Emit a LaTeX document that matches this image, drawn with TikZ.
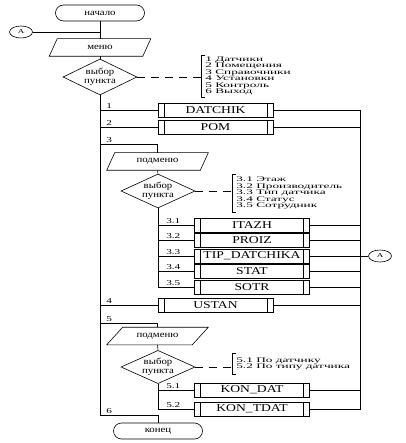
\documentclass[tikz,border=0pt]{standalone}
\usepackage{fontspec}
\setmainfont{Liberation Serif}[FakeStretch=1.2]
\newfontfamily\boxfont{Liberation Serif}[FakeStretch=1.3]
\newfontfamily\legfont{Liberation Serif}[FakeStretch=1.9]
\newfontfamily\numfont{Liberation Serif}[FakeStretch=1.5]
\usetikzlibrary{shapes.geometric}
\newcommand\pgdraw[2]{\draw ([xshift=#2]#1.north west) -- (#1.north east) -- ([xshift=-#2]#1.south east) -- (#1.south west) -- cycle;}
\newcommand\brk[1]{\draw ([xshift=4pt]#1.north west) -- (#1.north west) -- (#1.south west) -- ([xshift=4pt]#1.south west);}
\begin{document}
\begin{tikzpicture}[x=1pt,y=-1pt,
  line width=0.6pt,
  every node/.style={inner sep=0pt},
  term/.style={draw, rounded corners=8pt, minimum width=89pt, minimum height=16pt, font=\fontsize{9}{9}\selectfont},
  conn/.style={draw, ellipse, minimum width=23pt, minimum height=12pt, font=\numfont\fontsize{6}{6}\selectfont},
  pgbox/.style={minimum width=101pt, minimum height=17pt, font=\fontsize{9}{9}\selectfont},
  choice/.style={draw, diamond, aspect=2, minimum width=74pt, minimum height=36pt, align=center, font=\fontsize{9}{9}\selectfont},
  subr/.style={draw, minimum width=115pt, minimum height=14pt, font=\boxfont\fontsize{10.5}{10.5}\selectfont,
    path picture={\draw ([xshift=6pt]path picture bounding box.north west) -- ([xshift=6pt]path picture bounding box.south west)
      ([xshift=-6pt]path picture bounding box.north east) -- ([xshift=-6pt]path picture bounding box.south east);}},
  legend/.style={align=left, anchor=west, inner xsep=4pt, font=\legfont\fontsize{7}{6.5}\selectfont},
  num/.style={font=\numfont\fontsize{7.5}{7.5}\selectfont, anchor=south west},
  dsh/.style={dash pattern=on 8pt off 6pt}
]
\useasboundingbox (0,0) rectangle (405,443);
% main column
\node[term] (start) at (100,13) {начало};
\node[conn] (A1) at (21,32) {A};
\coordinate (jA) at (100,32);
\node[pgbox] (menu) at (100,47.5) {меню};
\pgdraw{menu}{8pt}
\node[choice] (ch1) at (100,77) {выбор\\пункта};
\node[legend, inner ysep=1.5pt] (L1) at (201,76) {1 Датчики\\2 Помещения\\3 Справочники\\4 Установки\\5 Контроль\\6 Выход};
\brk{L1}
\draw[dsh] (ch1.east) -- (ch1.east -| L1.west);
\draw (start.south) -- (menu.north);
\draw (A1.east) -- (jA);
\draw (menu.south) -- (ch1.north);

\coordinate (b1) at (100,110);
\coordinate (b2) at (100,127);
\coordinate (b3) at (100,144);
\coordinate (b4) at (100,305);
\coordinate (b5) at (100,323);
\coordinate (b6) at (100,415);

\node[subr] (datchik) at (215.5,110) {DATCHIK};
\node[subr] (pom) at (215.5,127) {POM};
\node[pgbox] (sub1) at (157.5,161.5) {подменю};
\pgdraw{sub1}{8pt}
\node[choice, minimum height=34pt] (ch2) at (158,191) {выбор\\пункта};
\node[legend, inner ysep=2.5pt] (L2) at (232,193) {3.1 Этаж\\3.2 Производитель\\3.3 Тип датчика\\3.4 Статус\\3.5 Сотрудник};
\brk{L2}
\draw[dsh] (ch2.east) -- (ch2.east -| L2.west);

\coordinate (c31) at (158,225);
\coordinate (c32) at (158,240);
\coordinate (c33) at (158,256);
\coordinate (c34) at (158,271);
\coordinate (c35) at (158,287);
\node[subr] (itazh) at (252,225) {ITAZH};
\node[subr] (proiz) at (252,240) {PROIZ};
\node[subr] (tip) at (252,256) {TIP\_DATCHIKA};
\node[subr] (stat) at (252,271) {STAT};
\node[subr] (sotr) at (252,287) {SOTR};
\node[conn] (A2) at (380,256) {A};

\node[subr] (ustan) at (215.5,305) {USTAN};
\node[pgbox] (sub2) at (157.5,336) {подменю};
\pgdraw{sub2}{16pt}
\node[choice, minimum height=31pt] (ch3) at (158,367) {выбор\\пункта};
\node[legend, inner ysep=4pt] (L3) at (232,364) {5.1 По датчику\\5.2 По типу датчика};
\brk{L3}
\draw[dsh] (ch3.east) -- (ch3.east -| L3.west);
\coordinate (c51) at (158,390);
\coordinate (c52) at (158,409);
\node[subr] (kondat) at (252,390) {KON\_DAT};
\node[subr] (kontdat) at (252,409) {KON\_TDAT};
\node[term] (end) at (158,431) {конец};

% connectors
\draw (ch1.south) -- (b6) -- (b6 -| end.north) -- (end.north);
\draw (b1) -- (datchik.west);
\draw (b2) -- (pom.west);
\draw (b3) -- (b3 -| sub1.north) -- (sub1.north);
\draw (sub1.south) -- (ch2.north);
\draw (ch2.south) -- (c35);
\draw (c31) -- (itazh.west);
\draw (c32) -- (proiz.west);
\draw (c33) -- (tip.west);
\draw (c34) -- (stat.west);
\draw (c35) -- (sotr.west);
\draw (b4) -- (ustan.west);
\draw (b5) -- (b5 -| sub2.north) -- (sub2.north);
\draw (sub2.south) -- (ch3.north);
\draw (ch3.south) -- (c52);
\draw (c51) -- (kondat.west);
\draw (c52) -- (kontdat.west);

\coordinate (rtop) at (360,110);
\coordinate (rbot) at (360,409);
\draw (datchik.east) -- (rtop) -- (rbot) -- (kontdat.east);
\draw (pom.east) -- (pom.east -| rtop);
\draw (itazh.east) -- (itazh.east -| rtop);
\draw (proiz.east) -- (proiz.east -| rtop);
\draw (tip.east) -- (A2.west);
\draw (stat.east) -- (stat.east -| rtop);
\draw (sotr.east) -- (sotr.east -| rtop);
\draw (ustan.east) -- (ustan.east -| rtop);
\draw (kondat.east) -- (kondat.east -| rtop);

% branch labels
\node[num] at (106,108.5) {1};
\node[num] at (106,125.5) {2};
\node[num] at (106,142.5) {3};
\node[num] at (106,303.5) {4};
\node[num] at (106,321.5) {5};
\node[num] at (106,413.5) {6};
\node[num] at (166,223.5) {3.1};
\node[num] at (166,238.5) {3.2};
\node[num] at (166,254.5) {3.3};
\node[num] at (166,269.5) {3.4};
\node[num] at (166,285.5) {3.5};
\node[num] at (166,388.5) {5.1};
\node[num] at (166,407.5) {5.2};
\end{tikzpicture}
\end{document}
